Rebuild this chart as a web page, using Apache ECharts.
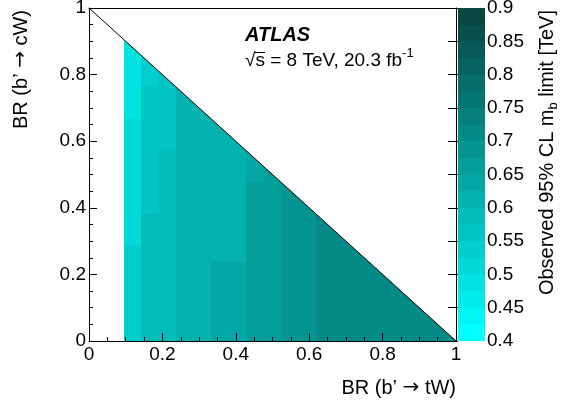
<!DOCTYPE html>
<html><head><meta charset="utf-8">
<script src="https://cdn.jsdelivr.net/npm/echarts@6/dist/echarts.min.js"></script>
<style>html,body{margin:0;padding:0;background:#fff}#c{width:568px;height:405px}</style>
</head><body><div id="c"></div>
<script>
// BR(b' -> tW) scan points (columns) and BR(b' -> cW) scan points (rows)
const brTW = [0.10,0.15,0.20,0.25,0.30,0.35,0.40,0.45,0.50,0.55,0.60,0.65,0.70,0.75,0.80,0.85,0.90,0.95,1.00];
const brCW = [0.00,0.05,0.10,0.15,0.20,0.25,0.30,0.35,0.40,0.45,0.50,0.55,0.60,0.65,0.70,0.75,0.80,0.85,0.90];
// Observed 95% CL m_b' limit [TeV]; one list per BR(tW) column, starting at BR(cW)=0
const lim010 = [0.54,0.54,0.54,0.54,0.54,0.54,0.51,0.51,0.51,0.51,0.51,0.51,0.51,0.51,0.49,0.49,0.49,0.49,0.49];
const lim015 = [0.59,0.59,0.59,0.59,0.59,0.59,0.59,0.59,0.56,0.56,0.56,0.56,0.56,0.56,0.56,0.56,0.54,0.54];
const lim020 = [0.59,0.59,0.59,0.59,0.59,0.59,0.59,0.59,0.59,0.59,0.59,0.59,0.56,0.56,0.56,0.56,0.56];
const lim025 = [0.61,0.61,0.61,0.61,0.61,0.61,0.61,0.61,0.61,0.61,0.61,0.61,0.61,0.61,0.61,0.61];
const lim030 = [0.61,0.61,0.61,0.61,0.61,0.61,0.61,0.61,0.61,0.61,0.61,0.61,0.61,0.61,0.61];
const lim035 = [0.64,0.64,0.64,0.64,0.64,0.61,0.61,0.61,0.61,0.61,0.61,0.61,0.61,0.61];
const lim040 = [0.64,0.64,0.64,0.64,0.64,0.61,0.61,0.61,0.61,0.61,0.61,0.61,0.61];
const lim045 = [0.66,0.66,0.66,0.66,0.66,0.66,0.66,0.66,0.66,0.66,0.64,0.64];
const lim050 = [0.66,0.66,0.66,0.66,0.66,0.66,0.66,0.66,0.66,0.66,0.66];
const lim055 = [0.69,0.69,0.69,0.69,0.69,0.69,0.69,0.69,0.69,0.69];
const lim060 = [0.69,0.69,0.69,0.69,0.69,0.69,0.69,0.69,0.69];
const lim065 = [0.71,0.71,0.71,0.71,0.71,0.71,0.71,0.71];
const lim070 = [0.71,0.71,0.71,0.71,0.71,0.71,0.71];
const lim075 = [0.71,0.71,0.71,0.71,0.71,0.71];
const lim080 = [0.71,0.71,0.71,0.71,0.71];
const lim085 = [0.71,0.71,0.71,0.71];
const lim090 = [0.71,0.71,0.71];
const lim095 = [0.71,0.71];
const lim100 = [0.71];
const limits = [lim010,lim015,lim020,lim025,lim030,lim035,lim040,lim045,lim050,lim055,lim060,lim065,lim070,lim075,lim080,lim085,lim090,lim095,lim100];
// kinematic boundary BR(tW)+BR(cW)=1
const boundTW = [0, 1];
const boundCW = [1, 0];
// colour palette levels (lower edges) of the z scale
const zLevels = [0.400,0.425,0.450,0.475,0.500,0.525,0.550,0.575,0.600,0.625,0.650,0.675,0.700,0.725,0.750,0.775,0.800,0.825,0.850,0.875];
const zMin = 0.4, zMax = 0.9, zStep = 0.025;

const NB = 21; // histogram bins on [0,1]
const FONT = '"Liberation Sans", Arial, Helvetica, sans-serif';

const cellData = [];
limits.forEach((col, k) => col.forEach((v, j) => cellData.push([brTW[k], brCW[j], v])));
const cbData = zLevels.map(lo => [lo, lo + zStep, lo + zStep / 2]);

function snapRect(a, b, c) {
  const x0 = Math.round(a[0]), x1 = Math.round(b[0]), y0 = Math.round(a[1]), y1 = Math.round(b[1]);
  return {type: 'rect', shape: {x: x0, y: y0, width: x1 - x0, height: y1 - y0}, style: {fill: c}};
}
function renderCell(params, api) {
  const bx = Math.round(api.value(0) * 20), by = Math.round(api.value(1) * 20);
  const a = api.coord([bx / NB, (by + 1) / NB]);
  const b = api.coord([(bx + 1) / NB, by / NB]);
  return snapRect(a, b, api.visual('color'));
}
function renderMask(params, api) {
  const p1 = api.coord([boundTW[0], boundCW[0]]);
  const p2 = api.coord([boundTW[1], boundCW[1]]);
  const p3 = api.coord([1, 1]);
  return {type: 'polygon', shape: {points: [p1, p2, [p3[0] + 2, p2[1]], [p3[0] + 2, p3[1] - 2], [p1[0] - 1, p3[1] - 2]]}, style: {fill: '#fff'}};
}
function renderBar(params, api) {
  const a = api.coord([0, api.value(1)]);
  const b = api.coord([1, api.value(0)]);
  return snapRect(a, b, api.visual('color'));
}

const blk = '#000';
const mainX = {
  type: 'value', gridIndex: 0, min: 0, max: 1, interval: 0.2, z: 6,
  axisLine: {show: true, onZero: false, lineStyle: {color: blk, width: 1}},
  axisTick: {show: true, inside: true, length: 8, lineStyle: {color: blk}},
  minorTick: {show: true, splitNumber: 4, length: 4, lineStyle: {color: blk}},
  axisLabel: {color: blk, fontSize: 19, fontFamily: FONT, margin: 4, showMinLabel: true, showMaxLabel: true},
  splitLine: {show: false}
};
const mainY = {
  type: 'value', gridIndex: 0, min: 0, max: 1, interval: 0.2, z: 6,
  axisLine: {show: true, onZero: false, lineStyle: {color: blk, width: 1}},
  axisTick: {show: true, inside: true, length: 8, lineStyle: {color: blk}},
  minorTick: {show: true, splitNumber: 4, length: 4, lineStyle: {color: blk}},
  axisLabel: {color: blk, fontSize: 19, fontFamily: FONT, margin: 3, showMinLabel: true, showMaxLabel: true},
  splitLine: {show: false}
};
const frame = (pos) => ({
  type: 'value', gridIndex: 0, min: 0, max: 1, position: pos, z: 6,
  axisLine: {show: true, onZero: false, lineStyle: {color: blk, width: 1}},
  axisTick: {show: false}, axisLabel: {show: false}, splitLine: {show: false}
});
const ARROW_FONT = '"DejaVu Sans", sans-serif';

const option = {
  animation: false,
  backgroundColor: '#fff',
  grid: [
    {left: 89, top: 8, width: 367, height: 333, outerBoundsMode: 'none'},
    {left: 458, top: 8, width: 27, height: 333, outerBoundsMode: 'none'}
  ],
  xAxis: [
    Object.assign({}, mainX, {position: 'bottom'}),
    frame('top'),
    {type: 'value', gridIndex: 1, min: 0, max: 1, show: false}
  ],
  yAxis: [
    Object.assign({}, mainY, {position: 'left'}),
    frame('right'),
    {type: 'value', gridIndex: 1, min: zMin, max: zMax, interval: 0.05, position: 'right', z: 6,
      axisLine: {show: false},
      axisTick: {show: true, inside: true, length: 10, lineStyle: {color: blk}},
      axisLabel: {color: blk, fontSize: 19, fontFamily: FONT, margin: 2, showMinLabel: true, showMaxLabel: true},
      splitLine: {show: false}}
  ],
  visualMap: {
    type: 'piecewise', show: false, min: zMin, max: zMax, splitNumber: 20, dimension: 2,
    seriesIndex: [0, 3],
    inRange: {color: ['#00ffff', '#074641']}
  },
  series: [
    {type: 'custom', xAxisIndex: 0, yAxisIndex: 0, data: cellData, renderItem: renderCell, z: 1, clip: true, silent: true},
    {type: 'custom', xAxisIndex: 0, yAxisIndex: 0, data: [[0]], renderItem: renderMask, z: 2, silent: true},
    {type: 'line', xAxisIndex: 0, yAxisIndex: 0, data: boundTW.map((x, i) => [x, boundCW[i]]),
      symbol: 'none', lineStyle: {color: blk, width: 1}, z: 3, silent: true},
    {type: 'custom', xAxisIndex: 2, yAxisIndex: 2, data: cbData, renderItem: renderBar, z: 1, silent: true}
  ],
  graphic: [
    {type: 'text', x: 21, y: 10, rotation: Math.PI / 2, z: 10,
      style: {text: 'BR (b’ {ar|→} cW)', fontSize: 20, fontFamily: FONT, fill: blk, align: 'right', verticalAlign: 'middle',
        rich: {ar: {fontSize: 20, fontFamily: ARROW_FONT, fill: blk}}}},
    {type: 'text', x: 456, y: 388, z: 10,
      style: {text: 'BR (b’ {ar|→} tW)', fontSize: 20, fontFamily: FONT, fill: blk, align: 'right', verticalAlign: 'middle',
        rich: {ar: {fontSize: 20, fontFamily: ARROW_FONT, fill: blk}}}},
    {type: 'text', x: 547, y: 10, rotation: Math.PI / 2, z: 10,
      style: {text: 'Observed 95% CL m{sub|b} limit [TeV]', fontSize: 20, fontFamily: FONT, fill: blk,
        align: 'right', verticalAlign: 'middle',
        rich: {sub: {fontSize: 13, fontFamily: FONT, fill: blk, verticalAlign: 'bottom', lineHeight: 26}}}},
    {type: 'text', x: 245, y: 35, z: 10,
      style: {text: 'ATLAS', fontSize: 20, fontWeight: 'bold', fontStyle: 'italic', fontFamily: FONT, fill: blk, align: 'left', verticalAlign: 'middle'}},
    {type: 'text', x: 245, y: 61, z: 10,
      style: {text: '√s = 8 TeV, 20.3 fb{sup|-1}', fontSize: 19, fontFamily: FONT, fill: blk, align: 'left', verticalAlign: 'middle',
        rich: {sup: {fontSize: 13, fontFamily: FONT, fill: blk, verticalAlign: 'top', lineHeight: 28}}}},
    {type: 'line', z: 10, shape: {x1: 254, y1: 52.5, x2: 265, y2: 52.5}, style: {stroke: blk, lineWidth: 1}}
  ]
};
const chart = echarts.init(document.getElementById('c'), null, {renderer: 'canvas'});
chart.setOption(option);
</script></body></html>
